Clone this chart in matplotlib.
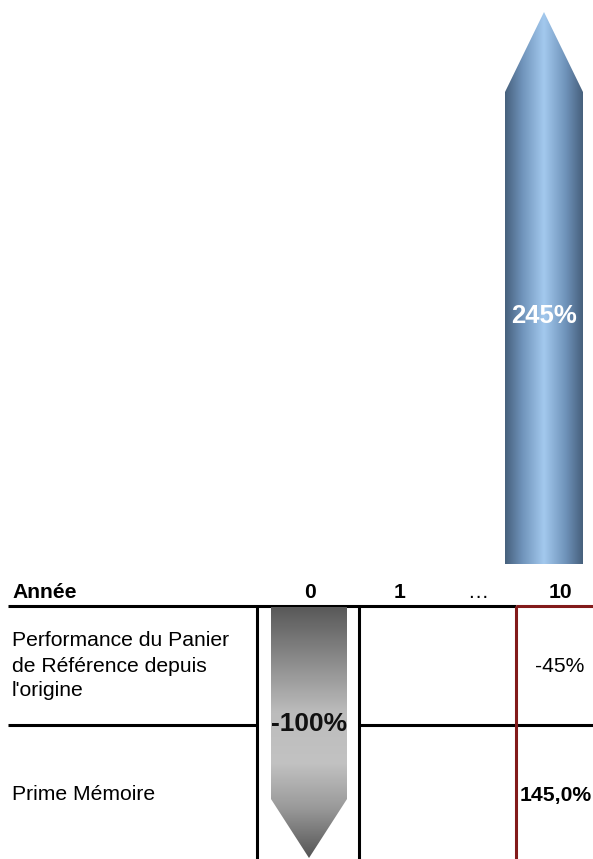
import numpy as np
import matplotlib
matplotlib.use("Agg")
import matplotlib.pyplot as plt
from matplotlib.patches import Polygon
from matplotlib.colors import LinearSegmentedColormap

plt.rcParams['font.family'] = ['Liberation Sans', 'DejaVu Sans']

# ---- data ----
header_label = "Année"
years = ["0", "1", "…", "10"]
row_labels = ["Performance du Panier\nde Référence depuis\nl'origine", "Prime Mémoire"]
basket_perf_final = -45        # % at year 10
memory_premium = 145.0         # % at year 10
arrow_up_value = 245           # % total shown by upward arrow
arrow_down_value = -100        # % shown by downward arrow at year 0

# ---- layout (pixels) ----
W, H = 593, 859
fig = plt.figure(figsize=(W / 100, H / 100), dpi=100)
ax = fig.add_axes([0, 0, 1, 1])
ax.set_xlim(0, W)
ax.set_ylim(H, 0)
ax.axis('off')

year_x = [310, 400, 478, 560]
header_y = 592
row_y = [666, 795]
line_y_header = 606
line_y_mid = 725
col_lines = [257, 359]
red_x = 516
black = '#000000'
red = '#821a1a'
lw = 2.2
fs = 15.2

# header
ax.text(12, header_y, header_label, ha='left', va='center', fontsize=fs, fontweight='bold')
for x, y in zip(year_x, years):
    ax.text(x, header_y, y, ha='center', va='center', fontsize=fs,
            fontweight='bold' if y != "…" else 'normal')

# grid lines
ax.plot([8, red_x], [line_y_header, line_y_header], color=black, lw=lw, solid_capstyle='butt')
ax.plot([red_x, W], [line_y_header, line_y_header], color=red, lw=lw, solid_capstyle='butt')
ax.plot([8, col_lines[0]], [line_y_mid, line_y_mid], color=black, lw=lw, solid_capstyle='butt')
ax.plot([col_lines[1], W], [line_y_mid, line_y_mid], color=black, lw=lw, solid_capstyle='butt')
for cx in col_lines:
    ax.plot([cx, cx], [line_y_header, H], color=black, lw=lw, solid_capstyle='butt')
ax.plot([red_x, red_x], [line_y_header, H], color=red, lw=lw, solid_capstyle='butt', zorder=5)

# row labels
ax.text(12, row_y[0], row_labels[0], ha='left', va='center', fontsize=fs, linespacing=1.4)
ax.text(12, row_y[1], row_labels[1], ha='left', va='center', fontsize=fs)

# year-10 values
ax.text(year_x[3], row_y[0], f"{basket_perf_final}%", ha='center', va='center', fontsize=fs)
ax.text(W - 1, row_y[1], f"{memory_premium:.1f}%".replace('.', ','), ha='right',
        va='center', fontsize=fs, fontweight='bold')


def gradient_arrow(axx, value, head_frac, cmap, horizontal):
    axx.set_xlim(-0.5, 0.5)
    lo, hi = (0, value) if value > 0 else (value, 0)
    axx.set_ylim(lo, hi)
    axx.axis('off')
    head = abs(value) * head_frac
    base = value - head if value > 0 else value + head
    pts = [(-0.5, 0), (0.5, 0), (0.5, base), (0, value), (-0.5, base)]
    poly = Polygon(pts, closed=True, facecolor='none', edgecolor='none')
    axx.add_patch(poly)
    if horizontal:
        grad = np.linspace(0, 1, 256)[None, :]
    else:
        grad = np.linspace(0, 1, 256)[:, None]
    im = axx.imshow(grad, cmap=cmap, extent=[-0.5, 0.5, lo, hi], aspect='auto',
                    origin='upper', interpolation='bicubic')
    im.set_clip_path(poly)


blue_cmap = LinearSegmentedColormap.from_list(
    'blue', [(0, '#46607c'), (0.22, '#6f93ba'), (0.5, '#a3c9ee'), (0.78, '#6f93ba'), (1, '#46607c')])
gray_cmap = LinearSegmentedColormap.from_list(
    'gray', [(0, '#595959'), (0.42, '#bcbcbc'), (0.62, '#c2c2c2'), (0.8, '#9a9a9a'), (1, '#555555')])

# upward arrow
ax_up = fig.add_axes([505 / W, (H - 564) / H, 78 / W, 552 / H])
gradient_arrow(ax_up, arrow_up_value, 0.145, blue_cmap, True)
ax_up.text(0.5, 0.45, f"{arrow_up_value}%", transform=ax_up.transAxes, ha='center',
           va='center', fontsize=18.5, fontweight='bold', color='white', clip_on=False)

# downward arrow
ax_dn = fig.add_axes([271 / W, (H - 858) / H, 76 / W, 251 / H])
gradient_arrow(ax_dn, arrow_down_value, 0.235, gray_cmap, False)
ax_dn.text(0.5, 0.535, f"{arrow_down_value}%", transform=ax_dn.transAxes, ha='center',
           va='center', fontsize=19, fontweight='bold', color='#111111', clip_on=False)

fig.savefig('out.png', dpi=100)
